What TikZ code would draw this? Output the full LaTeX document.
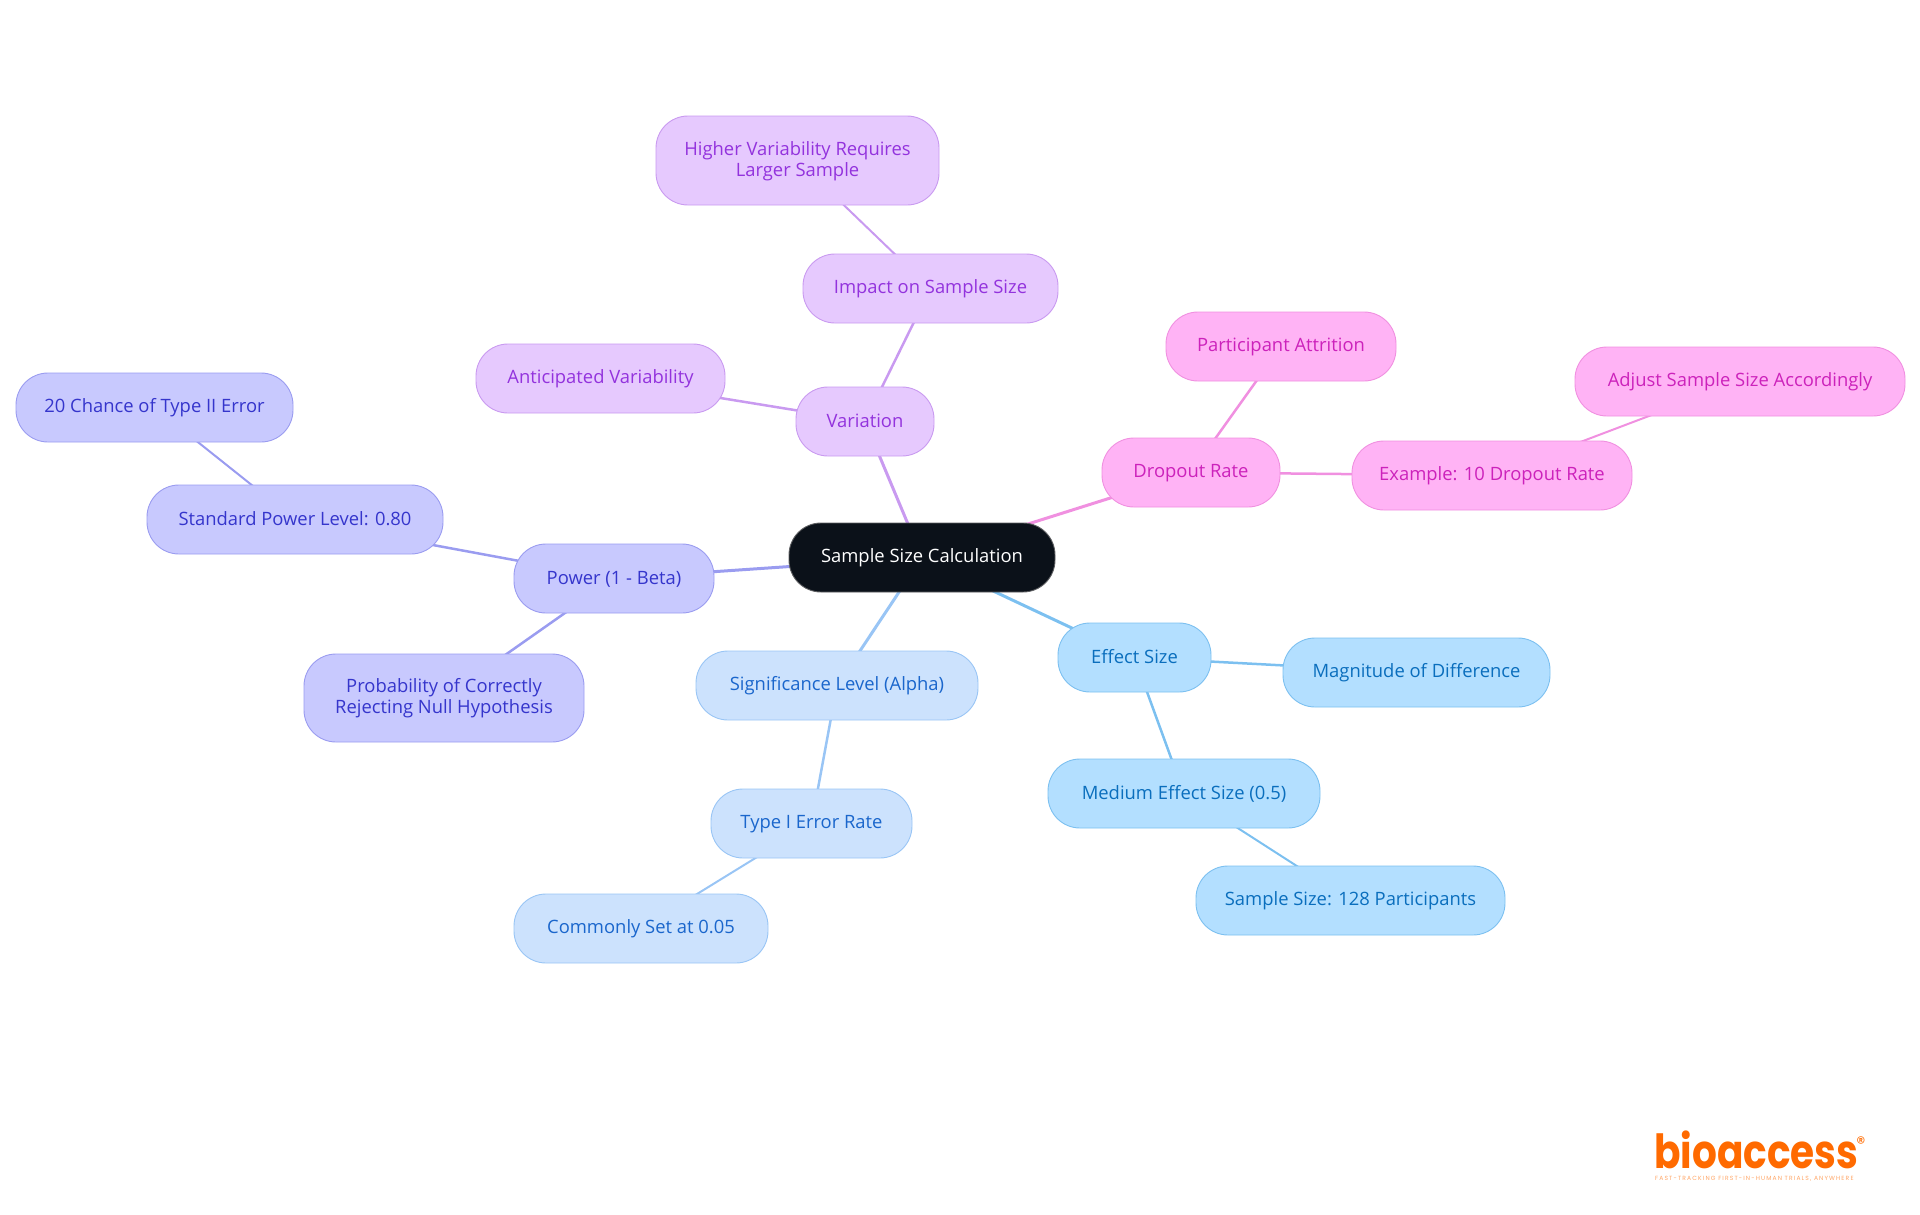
\documentclass[tikz,border=0pt]{standalone}
\usepackage{fontspec}
\setmainfont{Open Sans}
\newfontfamily\logofont{Poppins}
\newfontfamily\tagfont[LetterSpace=19]{Poppins}
\usetikzlibrary{backgrounds}
\definecolor{rootfill}{HTML}{0B1119}
\definecolor{effF}{HTML}{B3DFFF}\definecolor{effS}{HTML}{7CC0F0}\definecolor{effT}{HTML}{0A6EBD}
\definecolor{sigF}{HTML}{CCE2FD}\definecolor{sigS}{HTML}{99C5F5}\definecolor{sigT}{HTML}{1A66CC}
\definecolor{powF}{HTML}{C8C9FE}\definecolor{powS}{HTML}{9A9CF0}\definecolor{powT}{HTML}{3535CC}
\definecolor{varF}{HTML}{E6C9FE}\definecolor{varS}{HTML}{C99AF0}\definecolor{varT}{HTML}{9333DD}
\definecolor{droF}{HTML}{FFB3F5}\definecolor{droS}{HTML}{F090E0}\definecolor{droT}{HTML}{CC22BB}
\definecolor{logoO}{HTML}{FF6A00}
\tikzset{
  box/.style={rectangle,rounded corners=32pt,inner sep=0pt,align=center,line width=0.9pt,
    font=\fontsize{18.4}{21}\selectfont},
  rootbox/.style={box,fill=rootfill,draw=gray!70!rootfill,text=white},
  effbox/.style={box,fill=effF,draw=effS,text=effT},
  sigbox/.style={box,fill=sigF,draw=sigS,text=sigT},
  powbox/.style={box,fill=powF,draw=powS,text=powT},
  varbox/.style={box,fill=varF,draw=varS,text=varT},
  drobox/.style={box,fill=droF,draw=droS,text=droT},
  e1/.style={line width=3pt},
  e2/.style={line width=2.5pt},
  e3/.style={line width=2pt},
}
% \nbox{style}{name}{x0}{x1}{y0}{y1}{text}
\newcommand{\nbox}[7]{%
  \pgfmathsetmacro{\bw}{#4-#3}\pgfmathsetmacro{\bh}{#6-#5}%
  \pgfmathsetmacro{\bx}{(#3+#4)/2}\pgfmathsetmacro{\by}{(#5+#6)/2}%
  \node[#1,minimum width=\bw pt,minimum height=\bh pt] (#2) at (\bx,\by) {\rule[-4pt]{0pt}{19pt}#7};}
\begin{document}
\begin{tikzpicture}[x=1pt,y=-1pt]
\useasboundingbox (0,0) rectangle (1920,1215);
\nbox{rootbox}{root}{789}{1055}{523}{592}{Sample Size Calculation}
\nbox{effbox}{eff}{1058}{1211}{623}{692}{Effect Size}
\nbox{effbox}{mag}{1283}{1550}{638}{707}{Magnitude of Difference}
\nbox{effbox}{med}{1048}{1320}{759}{828}{Medium Effect Size (0.5)}
\nbox{effbox}{ss}{1196}{1505}{866}{935}{Sample Size: 128 Participants}
\nbox{sigbox}{sig}{696}{978}{651}{720}{Significance Level (Alpha)}
\nbox{sigbox}{typ}{711}{912}{789}{858}{Type I Error Rate}
\nbox{sigbox}{com}{514}{768}{894}{963}{Commonly Set at 0.05}
\nbox{powbox}{pow}{514}{714}{544}{613}{Power (1 - Beta)}
\nbox{powbox}{std}{147}{443}{485}{554}{Standard Power Level: 0.80}
\nbox{powbox}{cha}{16}{293}{373}{442}{20 Chance of Type II Error}
\nbox{powbox}{pro}{304}{584}{654}{742}{Probability of Correctly\\Rejecting Null Hypothesis}
\nbox{varbox}{var}{796}{934}{387}{456}{Variation}
\nbox{varbox}{ant}{476}{725}{344}{413}{Anticipated Variability}
\nbox{varbox}{imp}{803}{1058}{254}{323}{Impact on Sample Size}
\nbox{varbox}{hig}{656}{939}{116}{205}{Higher Variability Requires\\Larger Sample}
\nbox{drobox}{dro}{1102}{1280}{438}{507}{Dropout Rate}
\nbox{drobox}{par}{1166}{1396}{312}{381}{Participant Attrition}
\nbox{drobox}{exa}{1352}{1632}{441}{510}{Example: 10 Dropout Rate}
\nbox{drobox}{adj}{1575}{1905}{347}{416}{Adjust Sample Size Accordingly}
\begin{scope}[on background layer]
\draw[e1,effS] (root.center) -- (eff.center);
\draw[e2,effS] (eff.center) -- (mag.center);
\draw[e2,effS] (eff.center) -- (med.center);
\draw[e3,effS] (med.center) -- (ss.center);
\draw[e1,sigS] (root.center) -- (sig.center);
\draw[e2,sigS] (sig.center) -- (typ.center);
\draw[e3,sigS] (typ.center) -- (com.center);
\draw[e1,powS] (root.center) -- (pow.center);
\draw[e2,powS] (pow.center) -- (std.center);
\draw[e2,powS] (pow.center) -- (pro.center);
\draw[e3,powS] (std.center) -- (cha.center);
\draw[e1,varS] (root.center) -- (var.center);
\draw[e2,varS] (var.center) -- (ant.center);
\draw[e2,varS] (var.center) -- (imp.center);
\draw[e3,varS] (imp.center) -- (hig.center);
\draw[e1,droS] (root.center) -- (dro.center);
\draw[e2,droS] (dro.center) -- (par.center);
\draw[e2,droS] (dro.center) -- (exa.center);
\draw[e3,droS] (exa.center) -- (adj.center);
\end{scope}
\node[inner sep=0pt,anchor=base west,text=logoO,xscale=0.83,transform shape,font=\logofont\bfseries\fontsize{47}{47}\selectfont] (logo) at (1654,1168) {bioaccess};
\node[inner sep=0pt,text=logoO,font=\logofont\fontsize{18}{18}\selectfont] (reg) at (1861,1143) {®};
\node[inner sep=0pt,anchor=base west,text=logoO!60,font=\tagfont\fontsize{6}{7}\selectfont] (tag) at (1655,1180) {FAST-TRACKING FIRST-IN-HUMAN TRIALS, ANYWHERE};
\end{tikzpicture}
\end{document}
